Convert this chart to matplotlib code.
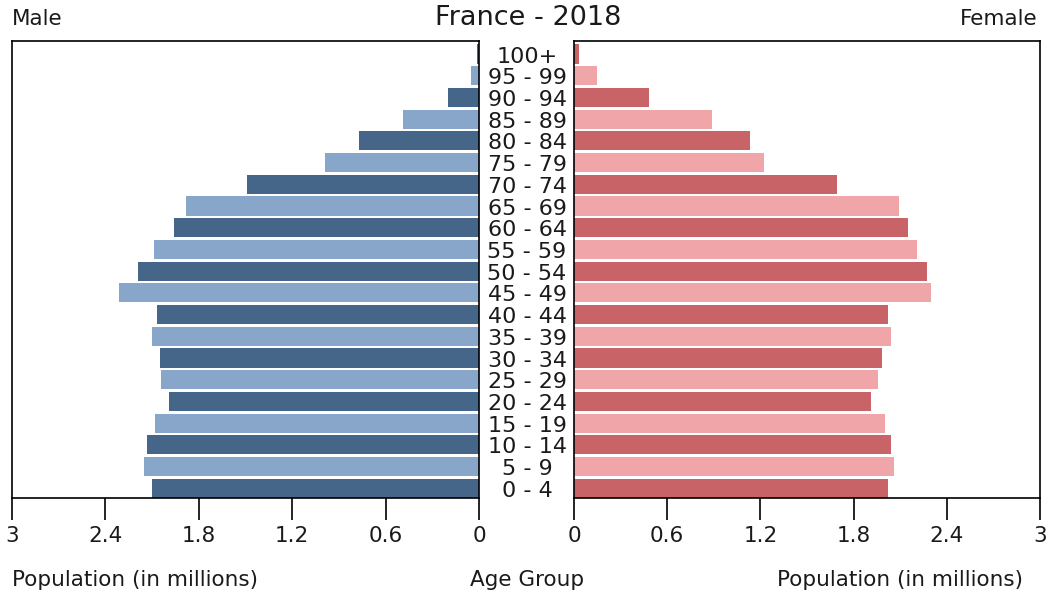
import matplotlib
matplotlib.use("Agg")
import matplotlib.pyplot as plt
import matplotlib.transforms as mtransforms

# age groups from youngest (bottom) to oldest (top)
age_groups = ["0 - 4", "5 - 9", "10 - 14", "15 - 19", "20 - 24", "25 - 29",
              "30 - 34", "35 - 39", "40 - 44", "45 - 49", "50 - 54", "55 - 59",
              "60 - 64", "65 - 69", "70 - 74", "75 - 79", "80 - 84", "85 - 89",
              "90 - 94", "95 - 99", "100+"]
male = [2.10, 2.15, 2.13, 2.08, 1.99, 2.04, 2.05, 2.10, 2.07, 2.31, 2.19,
        2.09, 1.96, 1.88, 1.49, 0.99, 0.77, 0.49, 0.20, 0.05, 0.013]
female = [2.02, 2.06, 2.04, 2.00, 1.91, 1.96, 1.98, 2.04, 2.02, 2.30, 2.27,
          2.21, 2.15, 2.09, 1.695, 1.22, 1.13, 0.89, 0.48, 0.15, 0.03]
ticks = [0, 0.6, 1.2, 1.8, 2.4, 3]
tick_labels = ["0", "0.6", "1.2", "1.8", "2.4", "3"]

male_cols = ["#456688", "#87a6c9"]
female_cols = ["#c86468", "#f0a6a8"]

W, H = 1057, 597
fig = plt.figure(figsize=(W / 100, H / 100), dpi=100)
fs = 15.5
txt = "#1a1a1a"

def px_axes(x0, x1, y_top, y_bot):
    return fig.add_axes([x0 / W, 1 - y_bot / H, (x1 - x0) / W, (y_bot - y_top) / H])

axl = px_axes(12, 479, 41, 498)
axr = px_axes(574, 1040, 41, 498)

ypos = list(range(len(age_groups)))
axl.barh(ypos, male, height=0.88, color=[male_cols[i % 2] for i in ypos])
axr.barh(ypos, female, height=0.88, color=[female_cols[i % 2] for i in ypos])

axl.set_xlim(3, 0)
axr.set_xlim(0, 3)
for ax in (axl, axr):
    ax.set_ylim(-0.45, 20.6)
    ax.set_yticks([])
    ax.set_xticks(ticks)
    ax.set_xticklabels(tick_labels, fontsize=fs, color=txt)
    ax.tick_params(axis="x", direction="out", length=15.5, width=1.2, pad=5)
    for s in ax.spines.values():
        s.set_linewidth(1.2)

# age labels in the gap between the two panels (sit a touch below bar centres)
trans = mtransforms.blended_transform_factory(fig.transFigure, axl.transData)
for i, lab in enumerate(age_groups):
    fig.text(527 / W, i - 0.12, lab, transform=trans, ha="center", va="center",
             fontsize=16, color=txt)

fig.text(528 / W, 1 - 18 / H, "France - 2018", ha="center", va="center",
         fontsize=19.5, color=txt)
fig.text(12 / W, 1 - 19 / H, "Male", ha="left", va="center", fontsize=fs, color=txt)
fig.text(1037 / W, 1 - 19 / H, "Female", ha="right", va="center", fontsize=fs, color=txt)
fig.text(12 / W, 1 - 580 / H, "Population (in millions)", ha="left", va="center",
         fontsize=fs, color=txt)
fig.text(527 / W, 1 - 580 / H, "Age Group", ha="center", va="center",
         fontsize=fs, color=txt)
fig.text(777 / W, 1 - 580 / H, "Population (in millions)", ha="left", va="center",
         fontsize=fs, color=txt)

fig.savefig("out.png", dpi=100)
